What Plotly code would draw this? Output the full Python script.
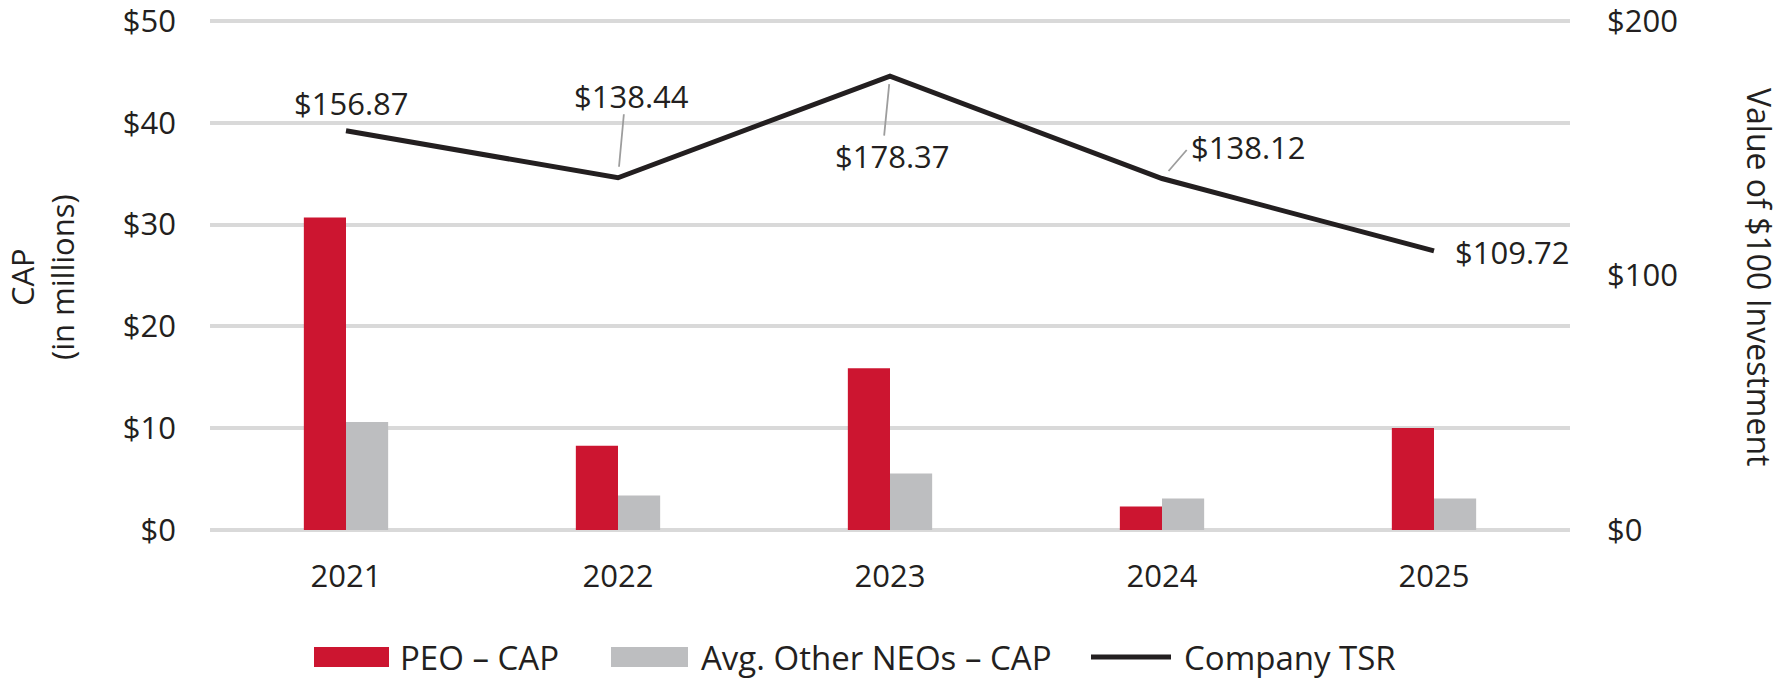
import plotly.graph_objects as go

years = ["2021", "2022", "2023", "2024", "2025"]
peo_cap = [30.7, 8.27, 15.9, 2.31, 10.03]
neo_cap = [10.6, 3.39, 5.54, 3.1, 3.1]
tsr = [156.87, 138.44, 178.37, 138.12, 109.72]
tsr_labels = ["$156.87", "$138.44", "$178.37", "$138.12", "$109.72"]
left_ticks = [0, 10, 20, 30, 40, 50]
right_ticks = [0, 100, 200]
series_names = ["PEO \u2013 CAP", "Avg. Other NEOs \u2013 CAP", "Company TSR"]

RED = "#cc1530"
GRAY = "#bdbec0"
BLACK = "#231f20"
TXT = "#231f20"
FONT = "Open Sans"
FS = 31
FS_LEG = 33

# body margin is removed by the post script, so page == figure pixels
OFF = 0
W, H = 1782 - OFF, 683 - OFF
Y_TOP_EXT = 50.4          # slight headroom so the top tick/grid is kept
ML = 210 - OFF
MR = W - (1570 - OFF)
MB = H - (530 - OFF)
unit = (530 - 21) / 50.0
MT = round((21 - OFF) - (Y_TOP_EXT - 50) * unit)
PW = W - ML - MR
PH = H - MT - MB

def px_x(px):
    return (px - OFF - ML) / PW

def px_y(py):
    return (H - MB - (py - OFF)) / PH

fig = go.Figure()
fig.add_trace(go.Bar(x=years, y=peo_cap, name=series_names[0], marker_color=RED,
                     marker_line_width=0, yaxis="y"))
fig.add_trace(go.Bar(x=years, y=neo_cap, name=series_names[1], marker_color=GRAY,
                     marker_line_width=0, yaxis="y"))
fig.add_trace(go.Scatter(x=years, y=tsr, name=series_names[2], mode="lines",
                         line=dict(color=BLACK, width=5), yaxis="y2"))

# label placement (pixel offsets of text centre from the point)
label_offsets = [(5, 28), (13, 82), (2, -80), (86, 32), (78, -1)]
# leader lines: (ax, ay, standoff) in pixels, None = no leader
leaders = [None, (6, -65, 11), (-6, 61, 8), (26, -30, 10), None]

annotations = []
for i, (v, lab, (dx, dy), ld) in enumerate(zip(tsr, tsr_labels, label_offsets, leaders)):
    annotations.append(dict(x=i, y=v, xref="x", yref="y2", text=lab, showarrow=False,
                            xanchor="center", yanchor="middle",
                            xshift=dx, yshift=dy, font=dict(family=FONT, size=FS, color=TXT)))
    if ld is not None:
        ax, ay, so = ld
        annotations.append(dict(x=i, y=v, xref="x", yref="y2", text="", showarrow=True,
                                ax=ax, ay=ay, arrowhead=0, arrowwidth=1.8,
                                arrowcolor="#9d9d9d", standoff=so))

# axis titles
annotations.append(dict(x=px_x(42), y=px_y(277), xref="paper", yref="paper",
                        text="CAP<br>(in millions)", showarrow=False, textangle=-90,
                        xanchor="center", yanchor="middle",
                        font=dict(family=FONT, size=FS, color=TXT)))
annotations.append(dict(x=px_x(1760), y=px_y(277), xref="paper", yref="paper",
                        text="Value of $100 Investment", showarrow=False, textangle=90,
                        xanchor="center", yanchor="middle",
                        font=dict(family=FONT, size=32, color=TXT)))

# custom legend
shapes = []
leg_y = px_y(657)
shapes.append(dict(type="rect", xref="paper", yref="paper", x0=px_x(314), x1=px_x(389),
                   y0=px_y(667), y1=px_y(647), fillcolor=RED, line_width=0))
shapes.append(dict(type="rect", xref="paper", yref="paper", x0=px_x(611), x1=px_x(688),
                   y0=px_y(667), y1=px_y(647), fillcolor=GRAY, line_width=0))
shapes.append(dict(type="line", xref="paper", yref="paper", x0=px_x(1091), x1=px_x(1171),
                   y0=leg_y, y1=leg_y, line=dict(color=BLACK, width=5)))
for name, xp in zip(series_names, [398, 699, 1182]):
    annotations.append(dict(x=px_x(xp), y=leg_y, xref="paper", yref="paper", text=name,
                            showarrow=False, xanchor="left", yanchor="middle",
                            font=dict(family=FONT, size=FS_LEG, color=TXT)))

fig.update_layout(
    width=W, height=H,
    margin=dict(l=ML, r=MR, t=MT, b=MB, autoexpand=False),
    paper_bgcolor="white", plot_bgcolor="white",
    barmode="group", bargap=0.69, bargroupgap=0,
    showlegend=False,
    font=dict(family=FONT, size=FS, color=TXT),
    xaxis=dict(type="category", range=[-0.5, 4.5], showgrid=False, showline=False, ticks="",
               tickfont=dict(family=FONT, size=FS, color=TXT), ticklabelstandoff=25),
    yaxis=dict(range=[0, Y_TOP_EXT], tickmode="array", tickvals=left_ticks,
               ticktext=["$" + str(v) for v in left_ticks], showgrid=True,
               gridcolor="#d9d9d9", gridwidth=3.5, zeroline=True, zerolinecolor="#d9d9d9",
               zerolinewidth=3.5, showline=False, ticks="", ticklabelstandoff=33,
               ticklabeloverflow="allow",
               tickfont=dict(family=FONT, size=FS, color=TXT)),
    yaxis2=dict(range=[0, Y_TOP_EXT * 4], tickmode="array", tickvals=right_ticks,
                ticktext=["$" + str(v) for v in right_ticks], overlaying="y",
                side="right", showgrid=False, zeroline=False, showline=False, ticks="",
                ticklabelstandoff=36, ticklabeloverflow="allow",
                tickfont=dict(family=FONT, size=FS, color=TXT)),
    annotations=annotations,
    shapes=shapes,
)

fig.write_html("out.html", config={"displayModeBar": False},
               post_script="document.body.style.margin='0';")
